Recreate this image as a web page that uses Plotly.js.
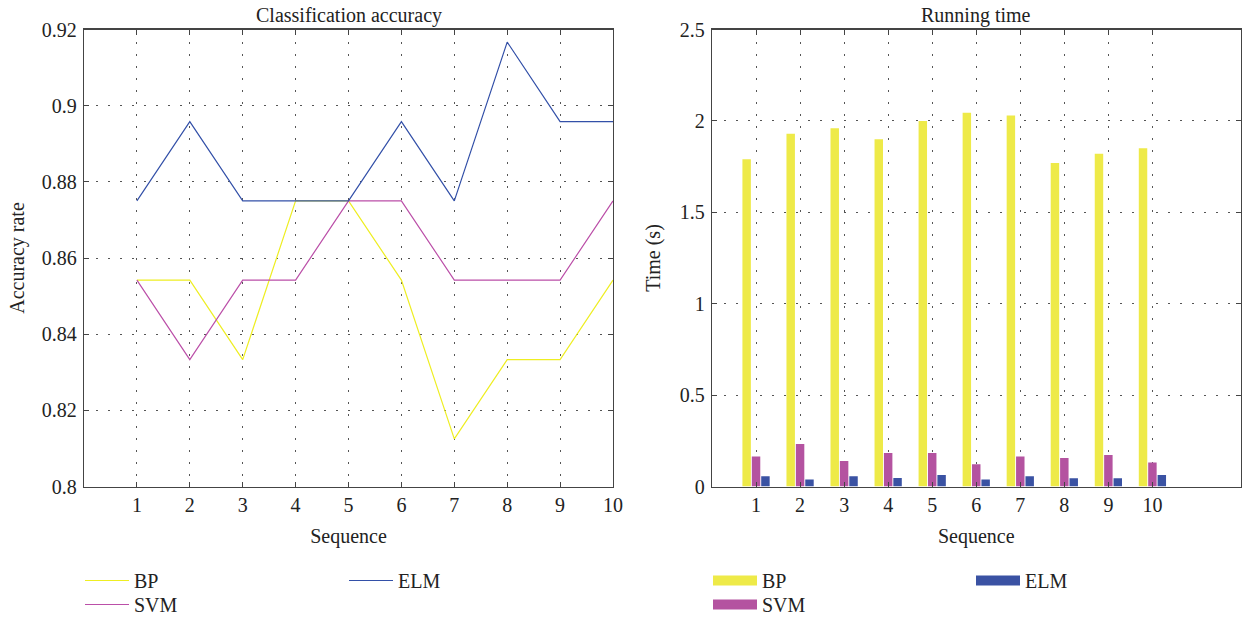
<!DOCTYPE html>
<html>
<head>
<meta charset="utf-8">
<script src="https://cdn.plot.ly/plotly-3.0.1.min.js"></script>
<style>html,body{margin:0;padding:0;background:#fff;overflow:hidden;}#chart{width:1242px;height:624px;}</style>
</head>
<body>
<div id="chart"></div>
<script>
// ---- data ----
var sequence = [1, 2, 3, 4, 5, 6, 7, 8, 9, 10];
var seriesNames = ["BP", "SVM", "ELM"];
var accuracyBP  = [0.8542, 0.8542, 0.8333, 0.875, 0.875, 0.8542, 0.8125, 0.8333, 0.8333, 0.8542];
var accuracySVM = [0.8542, 0.8333, 0.8542, 0.8542, 0.875, 0.875, 0.8542, 0.8542, 0.8542, 0.875];
var accuracyELM = [0.875, 0.8958, 0.875, 0.875, 0.875, 0.8958, 0.875, 0.9167, 0.8958, 0.8958];
var timeBP  = [1.79, 1.93, 1.96, 1.90, 2.00, 2.045, 2.03, 1.77, 1.82, 1.85];
var timeSVM = [0.164, 0.232, 0.140, 0.183, 0.183, 0.122, 0.164, 0.156, 0.173, 0.131];
var timeELM = [0.056, 0.038, 0.056, 0.047, 0.063, 0.038, 0.056, 0.045, 0.045, 0.063];
var accTicks = [0.8, 0.82, 0.84, 0.86, 0.88, 0.9, 0.92];
var timeTicks = [0, 0.5, 1, 1.5, 2, 2.5];

// ---- styles ----
var lineColors = ["#eeee22", "#bb4fa8", "#3350a8"];
var barColors = ["#eeea48", "#b453a0", "#3a52a3"];
var FONT = "Liberation Serif, Times New Roman, serif";
var W = 1242, H = 624;
function px(x) { return x / W; }
function py(y) { return 1 - y / H; }

// legend ids: line chart BP, SVM, ELM ; bar chart BP, SVM, ELM
var lineLegends = ["legend", "legend2", "legend3"];
var barLegends = ["legend4", "legend5", "legend6"];

var traces = [];
var accData = [accuracyBP, accuracySVM, accuracyELM];
for (var i = 0; i < 3; i++) {
  traces.push({
    type: "scatter", mode: "lines", x: sequence, y: accData[i], name: seriesNames[i],
    line: {color: lineColors[i], width: 1.2}, xaxis: "x", yaxis: "y",
    legend: lineLegends[i], hoverinfo: "x+y+name"
  });
}
var timeData = [timeBP, timeSVM, timeELM];
for (var j = 0; j < 3; j++) {
  traces.push({
    type: "bar", x: sequence, y: timeData[j], name: seriesNames[j],
    marker: {color: barColors[j], line: {width: 0}}, xaxis: "x2", yaxis: "y2",
    showlegend: false, legendgroup: "bar" + j
  });
}
// legend entries for the bars (wide rectangles as in the reference)
for (var k = 0; k < 3; k++) {
  traces.push({
    type: "scatter", mode: "lines", x: [null], y: [null], name: seriesNames[k],
    line: {color: barColors[k], width: 14}, xaxis: "x2", yaxis: "y2",
    legend: barLegends[k], legendgroup: "bar" + k, hoverinfo: "skip"
  });
}

var axisCommon = {
  showline: true, linecolor: "#444", linewidth: 1.3, mirror: "ticks",
  ticks: "inside", ticklen: 5, tickcolor: "#444", tickwidth: 1,
  showgrid: true, gridcolor: "#555", gridwidth: 1, griddash: "2px,10px",
  zeroline: false, tickfont: {family: FONT, size: 20, color: "#222"},
  fixedrange: true
};
function ax(extra) { return Object.assign({}, axisCommon, extra); }

var legendCommon = {
  orientation: "v", bgcolor: "rgba(0,0,0,0)", borderwidth: 0,
  font: {family: FONT, size: 20, color: "#222"}, xanchor: "left",
  itemwidth: 44, tracegroupgap: 0
};
function lg(extra) { return Object.assign({}, legendCommon, extra); }
var topRow = {y: py(561), yanchor: "top"};
var bottomRow = {y: 0, yanchor: "bottom"};

var layout = {
  width: W, height: H, margin: {l: 0, r: 0, t: 0, b: 0},
  paper_bgcolor: "#fff", plot_bgcolor: "#fff",
  font: {family: FONT, size: 20, color: "#222"},
  barmode: "group", bargap: 0.36, bargroupgap: 0.1,
  showlegend: true,
  xaxis: ax({domain: [px(84), px(613)], range: [0, 10], tickvals: sequence, anchor: "y",
    ticklabelstandoff: 0,
    title: {text: "Sequence", font: {family: FONT, size: 20, color: "#222"}, standoff: 14}}),
  yaxis: ax({domain: [py(486.5), py(29.5)], range: [0.8, 0.92], tickvals: accTicks, anchor: "x",
    ticklabelstandoff: 2,
    title: {text: "Accuracy rate", font: {family: FONT, size: 20, color: "#222"}, standoff: 11}}),
  xaxis2: ax({domain: [px(712), px(1240.5)], range: [0, 12], tickvals: sequence, anchor: "y2",
    ticklabelstandoff: 0,
    title: {text: "Sequence", font: {family: FONT, size: 20, color: "#222"}, standoff: 14}}),
  yaxis2: ax({domain: [py(486.5), py(29.5)], range: [0, 2.5], tickvals: timeTicks, anchor: "x2",
    ticklabelstandoff: 2,
    title: {text: "Time (s)", font: {family: FONT, size: 20, color: "#222"}, standoff: 13}}),
  legend:  lg(Object.assign({x: px(80)}, topRow)),
  legend2: lg(Object.assign({x: px(80)}, bottomRow)),
  legend3: lg(Object.assign({x: px(344)}, topRow)),
  legend4: lg(Object.assign({x: px(708)}, topRow)),
  legend5: lg(Object.assign({x: px(708)}, bottomRow)),
  legend6: lg(Object.assign({x: px(971)}, topRow)),
  annotations: [
    {text: "Classification accuracy", xref: "paper", yref: "paper", x: px(348.5), y: py(15),
     xanchor: "center", yanchor: "middle", showarrow: false, font: {family: FONT, size: 20, color: "#222"}},
    {text: "Running time", xref: "paper", yref: "paper", x: px(976), y: py(15),
     xanchor: "center", yanchor: "middle", showarrow: false, font: {family: FONT, size: 20, color: "#222"}}
  ]
};

Plotly.newPlot("chart", traces, layout, {displayModeBar: false, staticPlot: true});
</script>
</body>
</html>
